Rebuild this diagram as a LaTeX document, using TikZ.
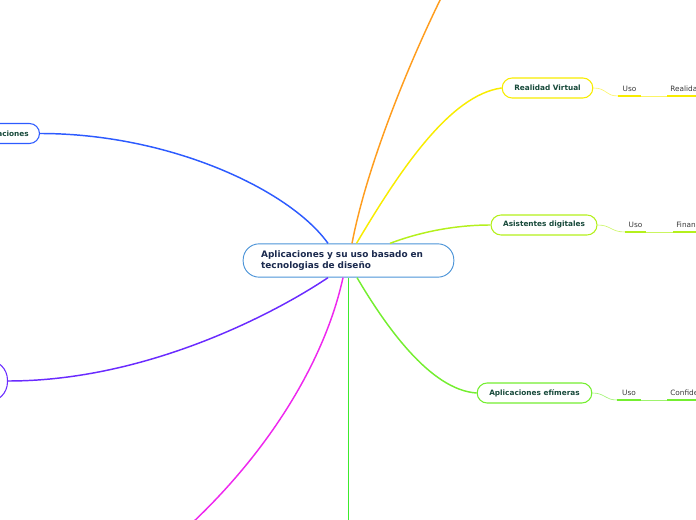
\documentclass[tikz,border=0pt]{standalone}
\usepackage{fontspec}
\setmainfont{DejaVu Sans}
\usepackage{xcolor}
\usetikzlibrary{positioning, calc}
\definecolor{centerBlue}{HTML}{4C94D8}
\definecolor{navyText}{HTML}{1B2A4E}
\definecolor{topicText}{HTML}{17493A}
\definecolor{labelText}{HTML}{3A3A3A}
\definecolor{orangeC}{HTML}{FF9D1E}
\definecolor{rvYellow}{HTML}{F8EC00}
\definecolor{asGreen}{HTML}{B4F01C}
\definecolor{efGreen}{HTML}{74EE30}
\definecolor{vertGreen}{HTML}{3CEB2C}
\definecolor{clBlue}{HTML}{2D5BFF}
\definecolor{puViolet}{HTML}{6A2BFF}
\definecolor{magentaC}{HTML}{EE28EE}
\tikzset{
    mainTopic/.style={draw=centerBlue, fill=white, line width=0.7pt, rounded corners=12pt, text=navyText,
        font=\fontsize{6.7}{8.25}\selectfont\bfseries, align=left, text width=131pt, inner xsep=13.5pt,
        minimum height=25pt},
    subTopic/.style={fill=white, line width=0.8pt, rounded corners=7.5pt, text=topicText,
        font=\fontsize{5.5}{6.5}\selectfont\bfseries, minimum height=15pt, inner ysep=0pt},
    itemLabel/.style={text=labelText, font=\fontsize{5.5}{6.5}\selectfont, inner xsep=2.25pt,
        inner ysep=3.5pt, text depth=0pt},
    branch/.style={line width=1.1pt},
    thinLink/.style={line width=0.45pt},
    underLine/.style={line width=1.5pt}
}
\begin{document}
\begin{tikzpicture}[x=0.75pt, y=-0.75pt]
    \useasboundingbox (0,0) rectangle (696,520);
    \clip (0,0) rectangle (696,520);
    % topics
    \node[mainTopic] (centre) at (348.5,260.5) {Aplicaciones y su uso basado en\\tecnologias de diseño};
    \node[subTopic, draw=rvYellow, minimum width=68pt] (realidad) at (547.5,88) {Realidad Virtual};
    \node[subTopic, draw=asGreen, minimum width=79.5pt] (asistentes) at (544,225) {Asistentes digitales};
    \node[subTopic, draw=efGreen, minimum width=86pt] (efimeras) at (534.5,393) {Aplicaciones efímeras};
    \node[subTopic, draw=clBlue, anchor=east, inner xsep=8pt] (clasif) at (40,133.5) {Clasificaciones};
    \node[subTopic, draw=puViolet, anchor=east, minimum width=90pt, minimum height=31.5pt,
        rounded corners=15pt] (violeta) at (8,381) {};
    \coordinate (orangeEnd) at (446,-12);
    \coordinate (magentaEnd) at (190,525);
    \coordinate (greenEnd) at (348.5,525);
    % main branches
    \draw[branch, orangeC] ($(centre.north)+(3.5,0)$) .. controls (366,170) and (406,68) .. (orangeEnd);
    \draw[branch, rvYellow] ($(centre.north)+(8,0)$) .. controls (400,170) and (450,95) .. (realidad.west);
    \draw[branch, asGreen] ($(centre.north)+(41.5,0)$) .. controls (420,232) and (455,225) .. (asistentes.west);
    \draw[branch, clBlue] ($(centre.north)+(-20.5,0)$) .. controls (290,190) and (170,133.5) .. (clasif.east);
    \draw[branch, puViolet] ($(centre.south)+(-20.5,0)$) .. controls (280,310) and (150,381) .. (violeta.east);
    \draw[branch, magentaC] ($(centre.south)+(-5.5,0)$) .. controls (325,360) and (270,450) .. (magentaEnd);
    \draw[branch, vertGreen] (centre.south) -- (greenEnd);
    \draw[branch, efGreen] ($(centre.south)+(8.5,0)$) .. controls (385,325) and (430,390) .. (efimeras.west);
    % Realidad Virtual
    \node[itemLabel, anchor=south, minimum width=17pt] (rvUso) at (629.5,96) {Uso};
    \node[itemLabel, anchor=south west] (rvReal) at (667,96) {Realidad aumentada};
    \draw[thinLink, rvYellow!60] (realidad.east) .. controls (607,88) and (605,96) .. (rvUso.south west);
    \draw[underLine, rvYellow] (rvUso.south west) -- (rvUso.south east);
    \draw[thinLink, rvYellow!60] (rvUso.south east) -- (rvReal.south west);
    \draw[underLine, rvYellow] (rvReal.south west) -- (rvReal.south east);
    % Asistentes digitales
    \node[itemLabel, anchor=south, minimum width=15.75pt] (asUso) at (635.5,232) {Uso};
    \node[itemLabel, anchor=south west] (asFin) at (673,232) {Finanzas};
    \draw[thinLink, asGreen!70] (asistentes.east) .. controls (611,225) and (611,232) .. (asUso.south west);
    \draw[underLine, asGreen] (asUso.south west) -- (asUso.south east);
    \draw[thinLink, asGreen!70] (asUso.south east) -- (asFin.south west);
    \draw[underLine, asGreen] (asFin.south west) -- (asFin.south east);
    % Aplicaciones efimeras
    \node[itemLabel, anchor=south, minimum width=18pt] (efUso) at (629,400) {Uso};
    \node[itemLabel, anchor=south west] (efConf) at (667,400) {Confidencialidad};
    \draw[thinLink, efGreen!70] (efimeras.east) .. controls (605,393) and (605,400) .. (efUso.south west);
    \draw[underLine, efGreen] (efUso.south west) -- (efUso.south east);
    \draw[thinLink, efGreen!70] (efUso.south east) -- (efConf.south west);
    \draw[underLine, efGreen] (efConf.south west) -- (efConf.south east);
\end{tikzpicture}
\end{document}
